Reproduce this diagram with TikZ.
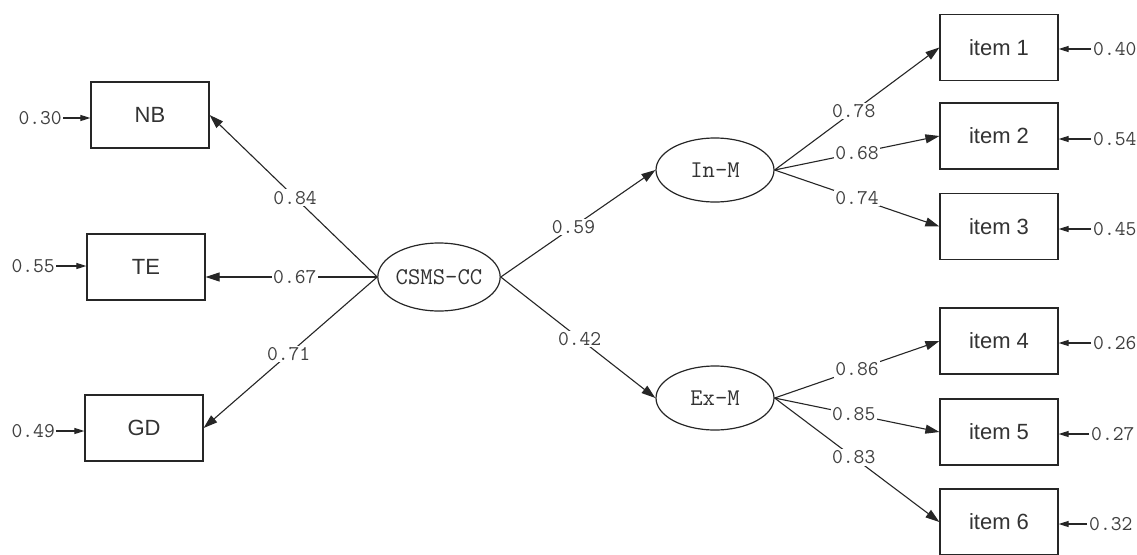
\documentclass[tikz,border=0pt]{standalone}
\usepackage{fontspec}
\setmainfont{Liberation Sans}
\usetikzlibrary{arrows.meta,shapes.geometric}

\begin{document}
\begin{tikzpicture}[x=1pt,y=-1pt,
  obs/.style={draw=black!85, line width=1.2pt, minimum width=118pt,
    minimum height=66pt, inner sep=0pt,
    font=\fontsize{22}{22}\selectfont, text=black!80},
  lat/.style={ellipse, draw=black!85, line width=1.2pt, minimum width=118pt,
    minimum height=64pt, inner sep=0pt,
    font=\ttfamily\fontsize{24}{24}\selectfont, text=black!80},
  link/.style={line width=1.1pt, draw=black!85,
    -{Triangle[length=14pt,width=9pt]}},
  coef/.style={fill=white, inner sep=1.5pt,
    font=\ttfamily\fontsize{21}{21}\selectfont, text=black!75},
  err/.style={line width=1.1pt, draw=black!85,
    -{Triangle[length=10pt,width=6pt]}},
  errlab/.style={inner sep=0pt,
    font=\ttfamily\fontsize{21}{21}\selectfont, text=black!75}]

\useasboundingbox[fill=white] (0,0) rectangle (1137,554);

% observed indicators of the second-order factor
\node[obs] (NB) at (150,115) {NB};
\node[obs] (TE) at (146,267) {TE};
\node[obs] (GD) at (144,428) {GD};

% latent variables
\node[lat, minimum width=122pt, minimum height=68pt] (C) at (439,277) {CSMS-CC};
\node[lat] (IN) at (715,170) {In-M};
\node[lat] (EX) at (715,398) {Ex-M};

% items
\node[obs] (I1) at (999,47.5) {item 1};
\node[obs] (I2) at (999,136) {item 2};
\node[obs] (I3) at (999,226.5) {item 3};
\node[obs] (I4) at (999,341) {item 4};
\node[obs] (I5) at (999,432) {item 5};
\node[obs] (I6) at (999,522) {item 6};

% loadings of CSMS-CC
\draw[link] (C.west) -- node[coef,pos=0.49]{0.84} (NB.east);
\draw[link] (C.west) -- node[coef,pos=0.48]{0.67} (C.west -| TE.east);
\draw[link] (C.west) -- node[coef,pos=0.51]{0.71} (GD.east);
\draw[link] (C.east) -- node[coef,pos=0.47]{0.59} (IN.west);
\draw[link] (C.east) -- node[coef,pos=0.51]{0.42} (EX.west);

% loadings of In-M and Ex-M
\draw[link] (IN.east) -- node[coef,pos=0.48]{0.78} (I1.west);
\draw[link] (IN.east) -- node[coef,pos=0.5]{0.68} (I2.west);
\draw[link] (IN.east) -- node[coef,pos=0.5]{0.74} (I3.west);
\draw[link] (EX.east) -- node[coef,pos=0.5]{0.86} (I4.west);
\draw[link] (EX.east) -- node[coef,pos=0.48]{0.85} (I5.west);
\draw[link] (EX.east) -- node[coef,pos=0.48]{0.83} (I6.west);

% error variances, left
\node[errlab, anchor=east] (eNB) at (62,118) {0.30};
\node[errlab, anchor=east] (eTE) at (55,266) {0.55};
\node[errlab, anchor=east] (eGD) at (55,431) {0.49};
\draw[err] ([xshift=1pt]eNB.east) -- (eNB.east -| NB.west);
\draw[err] ([xshift=1pt]eTE.east) -- (eTE.east -| TE.west);
\draw[err] ([xshift=1pt]eGD.east) -- (eGD.east -| GD.west);

% error variances, right
\node[errlab, anchor=west] (e1) at (1093,49) {0.40};
\node[errlab, anchor=west] (e2) at (1093,139) {0.54};
\node[errlab, anchor=west] (e3) at (1093,229) {0.45};
\node[errlab, anchor=west] (e4) at (1093,343) {0.26};
\node[errlab, anchor=west] (e5) at (1091,434) {0.27};
\node[errlab, anchor=west] (e6) at (1089,524) {0.32};
\foreach \e/\b in {e1/I1,e2/I2,e3/I3,e4/I4,e5/I5,e6/I6}
  \draw[err] ([xshift=-2pt]\e.west) -- (\e.west -| \b.east);
\end{tikzpicture}
\end{document}
